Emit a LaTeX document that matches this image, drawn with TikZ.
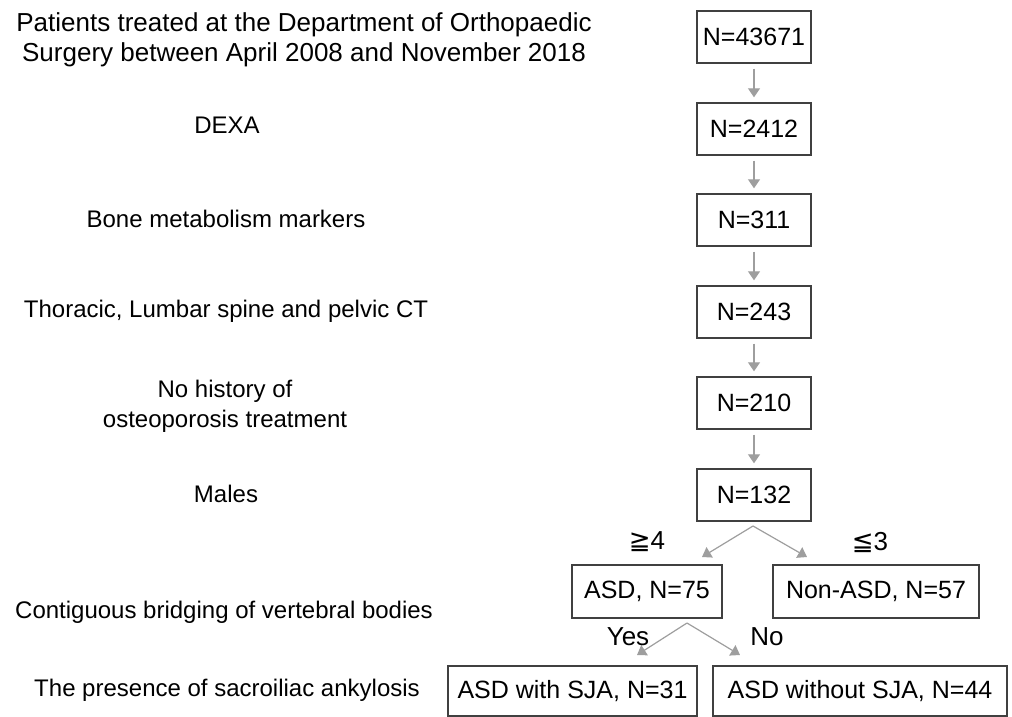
\documentclass[tikz,border=0pt]{standalone}
\usepackage{fontspec}
\setmainfont{Liberation Sans}
\newfontfamily\symfont{DejaVu Sans}
\usetikzlibrary{arrows.meta}
\tikzset{
  countbox/.style={draw=black!75,line width=0.7pt,minimum width=57pt,minimum height=26pt,inner sep=0pt,font=\fontsize{12.5}{14}\selectfont},
  steplabel/.style={font=\fontsize{12}{15}\selectfont,align=center},
  flow/.style={draw=black!38,line width=0.6pt,-{Triangle[width=6pt,length=4.5pt]},shorten <=2.5pt,shorten >=2.5pt},
  split/.style={draw=black!38,line width=0.6pt,-{Triangle[width=6pt,length=4.5pt]}},
  branchlabel/.style={font=\fontsize{13}{15}\selectfont}
}
\begin{document}
\begin{tikzpicture}[x=0.5pt,y=-0.5pt]
  \useasboundingbox (0,0) rectangle (1012,717);
  % selection steps
  \node[countbox] (all) at (754,37) {N=43671};
  \node[countbox] (dexa) at (754,129) {N=2412};
  \node[countbox] (marker) at (754,220) {N=311};
  \node[countbox] (ct) at (754,312) {N=243};
  \node[countbox] (notreat) at (754,403) {N=210};
  \node[countbox] (male) at (754,495) {N=132};
  \draw[flow] (all) -- (dexa);
  \draw[flow] (dexa) -- (marker);
  \draw[flow] (marker) -- (ct);
  \draw[flow] (ct) -- (notreat);
  \draw[flow] (notreat) -- (male);
  %%
  \node[steplabel,font=\fontsize{13}{15}\selectfont] (l-all) at (304,40) {Patients treated at the Department of Orthopaedic\\Surgery between April 2008 and November 2018};
  \node[steplabel] (l-dexa) at (227,125) {DEXA};
  \node[steplabel] (l-marker) at (226,219) {Bone metabolism markers};
  \node[steplabel] (l-ct) at (226,311) {Thoracic, Lumbar spine and pelvic CT};
  \node[steplabel] (l-notreat) at (225,406) {No history of\\osteoporosis treatment};
  \node[steplabel] (l-male) at (226,494) {Males};
  \node[steplabel] (l-bridge) at (224,612) {Contiguous bridging of vertebral bodies};
  \node[steplabel] (l-sja) at (227,690) {The presence of sacroiliac ankylosis};
  %%
  % ASD split
  \node[countbox,minimum width=75pt,minimum height=26.5pt] (asd) at (647,591.5) {ASD, N=75};
  \node[countbox,minimum width=103pt,minimum height=26.5pt] (nonasd) at (876,591.5) {Non-ASD, N=57};
  \coordinate (male-s) at (753,526);
  \coordinate (asd-in) at (702,557);
  \coordinate (nonasd-in) at (807,557);
  \draw[split] (male-s) -- (asd-in);
  \draw[split] (male-s) -- (nonasd-in);
  \node[branchlabel] (ge4) at (647,542) {{\symfont ≧}4};
  \node[branchlabel] (le3) at (870,542) {{\symfont ≦}3};
  %%
  % SJA split
  \node[countbox,minimum width=124.5pt,minimum height=25pt] (withsja) at (572.5,691) {ASD with SJA, N=31};
  \node[countbox,minimum width=147pt,minimum height=25pt] (withoutsja) at (860,691) {ASD without SJA, N=44};
  \coordinate (asd-s) at (687,623);
  \coordinate (withsja-in) at (637,655);
  \coordinate (withoutsja-in) at (740,655);
  \draw[split] (asd-s) -- (withsja-in);
  \draw[split] (asd-s) -- (withoutsja-in);
  \node[branchlabel] (yes) at (628,637) {Yes};
  \node[branchlabel] (no) at (767,637) {No};
\end{tikzpicture}
\end{document}
